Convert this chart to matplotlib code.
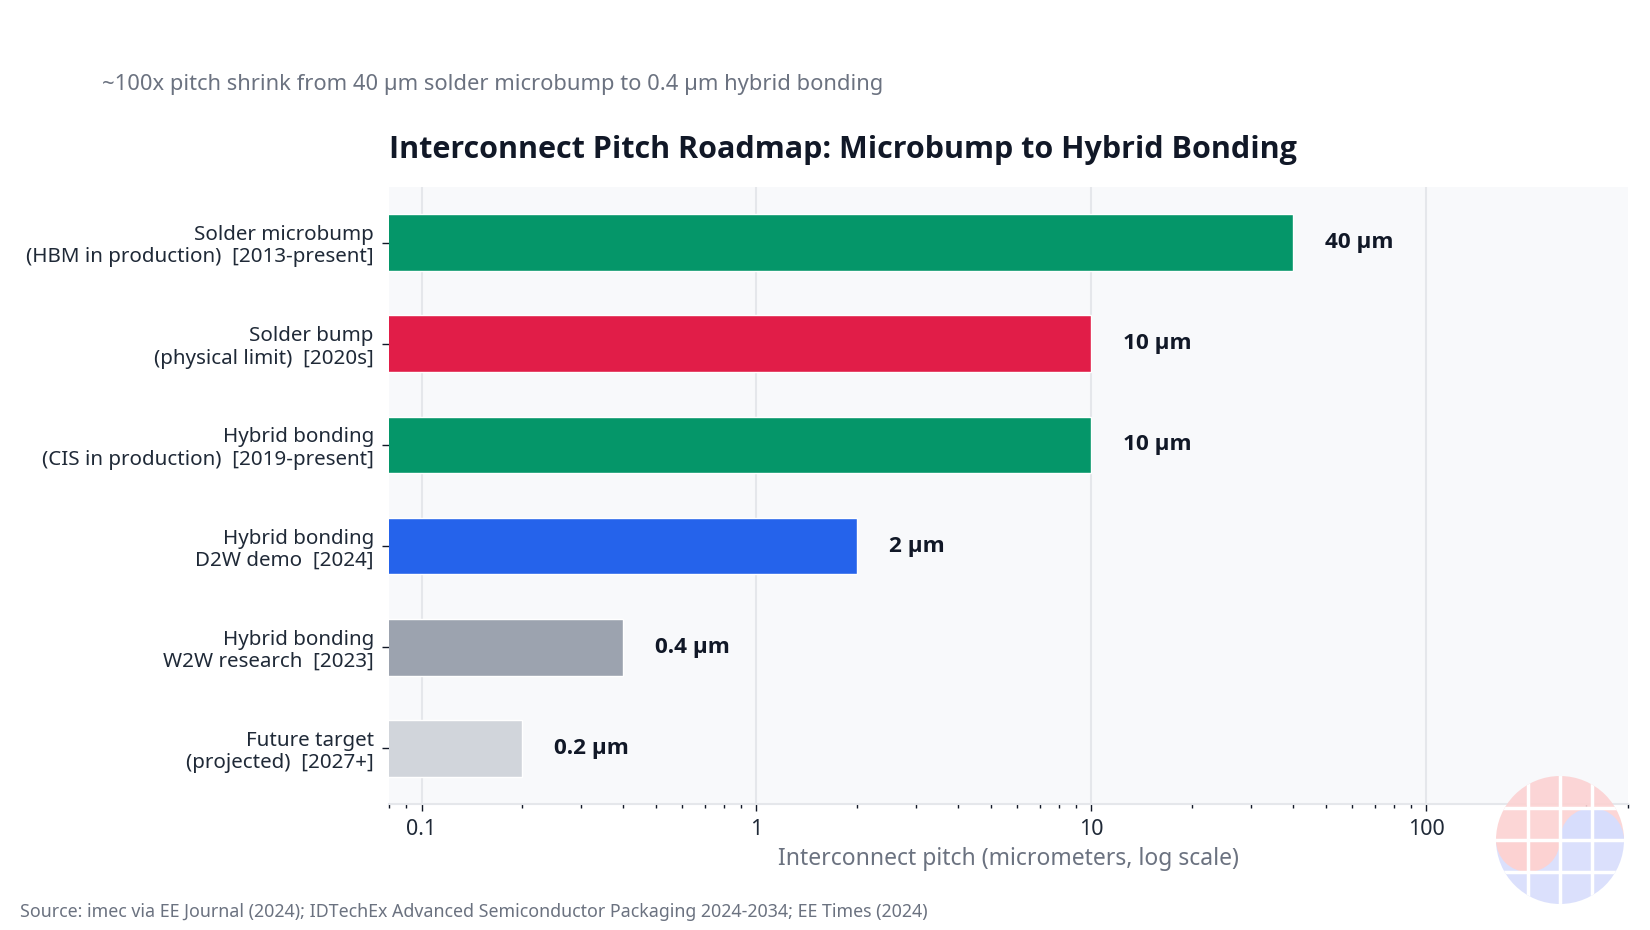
import matplotlib
matplotlib.use("Agg")
import matplotlib.pyplot as plt
from matplotlib.patches import Circle, Wedge
from matplotlib.ticker import LogLocator, FixedLocator, NullFormatter

plt.rcParams["font.family"] = ["Noto Sans", "DejaVu Sans"]
BOLD = ["Open Sans", "Noto Sans", "DejaVu Sans"]

# Data
labels = [
    "Solder microbump\n(HBM in production)  [2013-present]",
    "Solder bump\n(physical limit)  [2020s]",
    "Hybrid bonding\n(CIS in production)  [2019-present]",
    "Hybrid bonding\nD2W demo  [2024]",
    "Hybrid bonding\nW2W research  [2023]",
    "Future target\n(projected)  [2027+]",
]
pitch_um = [40, 10, 10, 2, 0.4, 0.2]
value_text = ["40 µm", "10 µm", "10 µm", "2 µm", "0.4 µm", "0.2 µm"]
colors = ["#059669", "#e11d48", "#059669", "#2563eb", "#9ca3af", "#d1d5db"]
major_ticks = [0.1, 1, 10, 100]
tick_labels = ["0.1", "1", "10", "100"]

dark = "#111827"
grey = "#6b7280"

fig = plt.figure(figsize=(16.5, 9.3), dpi=100)
ax = fig.add_axes([0.2358, 0.1355, 0.7509, 0.6634])
ax.set_facecolor("#f8f9fb")

ypos = list(range(len(labels)))
ax.barh(ypos, pitch_um, height=0.56, color=colors, edgecolor="white", linewidth=1, zorder=3)

ax.set_xscale("log")
ax.set_xlim(0.08, 400)
ax.set_ylim(5.55, -0.55)

# value labels, offset in points from the bar end
for y, v, t in zip(ypos, pitch_um, value_text):
    ax.annotate(t, (v, y), xytext=(23, 0), textcoords="offset points",
                va="center", ha="left", fontsize=16.2, fontweight="bold",
                family=BOLD, color=dark)

ax.set_yticks(ypos)
ax.set_yticklabels(labels, fontsize=14.8, color="#1f2937", ha="right", linespacing=1.15)
ax.tick_params(axis="y", length=5, width=1, color=dark, pad=6)

ax.xaxis.set_major_locator(FixedLocator(major_ticks))
ax.set_xticklabels(tick_labels, fontsize=15.5, color="#1f2937")
ax.xaxis.set_minor_locator(LogLocator(base=10, subs=range(2, 10)))
ax.xaxis.set_minor_formatter(NullFormatter())
ax.tick_params(axis="x", which="major", length=5, width=1, color=dark, pad=6)
ax.tick_params(axis="x", which="minor", length=3, width=1, color=dark)

ax.grid(axis="x", which="major", color="#e5e7eb", linewidth=1.5, zorder=0)
ax.set_axisbelow(True)
for s in ["top", "right", "left"]:
    ax.spines[s].set_visible(False)
ax.spines["bottom"].set_color("#e5e7eb")
ax.spines["bottom"].set_linewidth(1.5)

ax.set_xlabel("Interconnect pitch (micrometers, log scale)", fontsize=16.5, color=grey, labelpad=5)

ax.set_title("Interconnect Pitch Roadmap: Microbump to Hybrid Bonding",
             loc="left", fontsize=22, fontweight="bold", family=BOLD, color=dark, pad=21)

fig.text(0.0618, 0.909, "~100x pitch shrink from 40 µm solder microbump to 0.4 µm hybrid bonding",
         fontsize=15.8, color=grey, va="center", ha="left")
fig.text(0.012, 0.0194,
         "Source: imec via EE Journal (2024); IDTechEx Advanced Semiconductor Packaging 2024-2034; EE Times (2024)",
         fontsize=12.8, color=grey, va="center", ha="left")

# watermark logo, bottom right
W, H = 1650, 930
cx, cy, r = 1560, 930 - 840, 64
lax = fig.add_axes([(cx - r) / W, (cy - r) / H, 2 * r / W, 2 * r / H])
lax.set_xlim(-1, 1)
lax.set_ylim(-1, 1)
lax.axis("off")
lax.patch.set_alpha(0)
pink = "#fcd2d2"
blue = "#d7ddfc"
lax.add_patch(Wedge((0, 0), 1, 0, 180, color=pink, alpha=0.9, lw=0))
lax.add_patch(Wedge((0, 0), 1, 180, 360, color=blue, alpha=0.9, lw=0))
lax.add_patch(Wedge((-0.5, 0), 0.5, 180, 360, color=pink, alpha=1, lw=0))
lax.add_patch(Wedge((0.5, 0), 0.5, 0, 180, color=blue, alpha=1, lw=0))
for g in [-0.5, 0, 0.5]:
    lax.plot([g, g], [-1, 1], color="white", lw=2.5)
    lax.plot([-1, 1], [g, g], color="white", lw=2.5)
clip = Circle((0, 0), 1, transform=lax.transData)
for art in lax.lines:
    art.set_clip_path(clip)

fig.savefig("out.png", dpi=100)
